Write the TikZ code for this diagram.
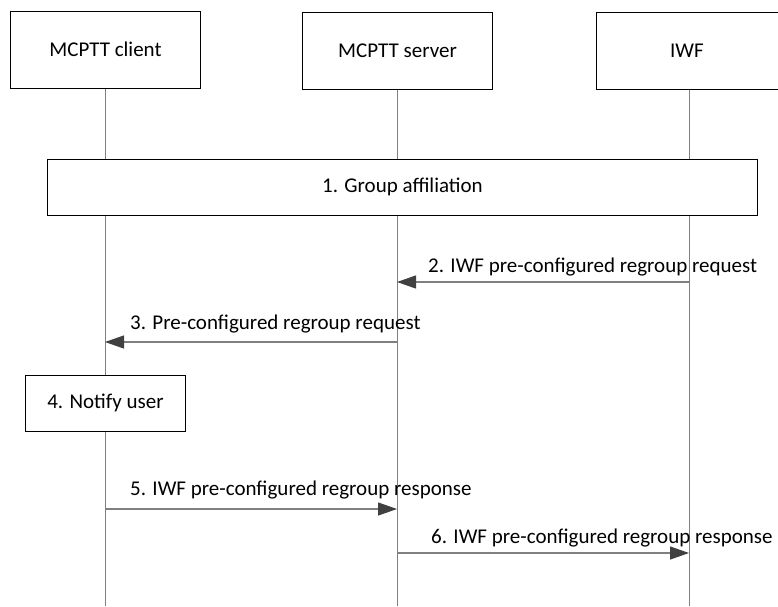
\documentclass[tikz,border=0pt]{standalone}
\usepackage{fontspec}
\setmainfont{Carlito}
\usetikzlibrary{arrows.meta}
\definecolor{lifegray}{HTML}{808080}
\definecolor{headgray}{HTML}{404040}
\begin{document}
\begin{tikzpicture}[x=1pt,y=-1pt,
  every node/.style={font=\fontsize{21}{24}\selectfont},
  entity/.style={draw=black,line width=0.9pt,fill=white,minimum width=190pt,minimum height=77pt,inner sep=0pt},
  actbox/.style={draw=black,line width=0.9pt,fill=white,inner sep=0pt},
  lifeline/.style={draw=lifegray,line width=1pt},
  msg/.style={draw=lifegray,line width=1.2pt,-{Triangle[length=19pt,width=13pt,fill=headgray,color=headgray]}},
  msglabel/.style={anchor=west,inner sep=0pt}
]
\useasboundingbox (0,0) rectangle (778,606);
% lifelines
\coordinate (cTop) at (105,88);
\coordinate (cBot) at (105,606);
\coordinate (sTop) at (397,88);
\coordinate (sBot) at (397,606);
\coordinate (iTop) at (689,88);
\coordinate (iBot) at (689,606);
\draw[lifeline] (cTop) -- (cBot);
\draw[lifeline] (sTop) -- (sBot);
\draw[lifeline] (iTop) -- (iBot);
% entity boxes
\node[entity] (client) at (105.5,49.5) {MCPTT client};
\node[entity] (server) at (397.5,50.5) {MCPTT server};
\node[entity,minimum width=182pt] (iwf) at (687,50.5) {IWF};
% group affiliation
\node[actbox,minimum width=710pt,minimum height=56pt] (ga) at (402.5,187) {1. Group affiliation};
% notify user
\node[actbox,minimum width=160pt,minimum height=56pt] (nu) at (105.5,403) {4. Notify user};
% message endpoints
\coordinate (m2s) at (689,282);
\coordinate (m2e) at (397,282);
\coordinate (m3s) at (397,342);
\coordinate (m3e) at (105,342);
\coordinate (m5s) at (105,509);
\coordinate (m5e) at (397,509);
\coordinate (m6s) at (397,553);
\coordinate (m6e) at (689,553);
\draw[msg] (m2s) -- (m2e);
\draw[msg] (m3s) -- (m3e);
\draw[msg] (m5s) -- (m5e);
\draw[msg] (m6s) -- (m6e);
% labels
\node[msglabel] (l2) at (428,267) {2. IWF pre-configured regroup request};
\node[msglabel] (l3) at (130,324) {3. Pre-configured regroup request};
\node[msglabel] (l5) at (130,490) {5. IWF pre-configured regroup response};
\node[msglabel] (l6) at (431,538) {6. IWF pre-configured regroup response};
\end{tikzpicture}
\end{document}
